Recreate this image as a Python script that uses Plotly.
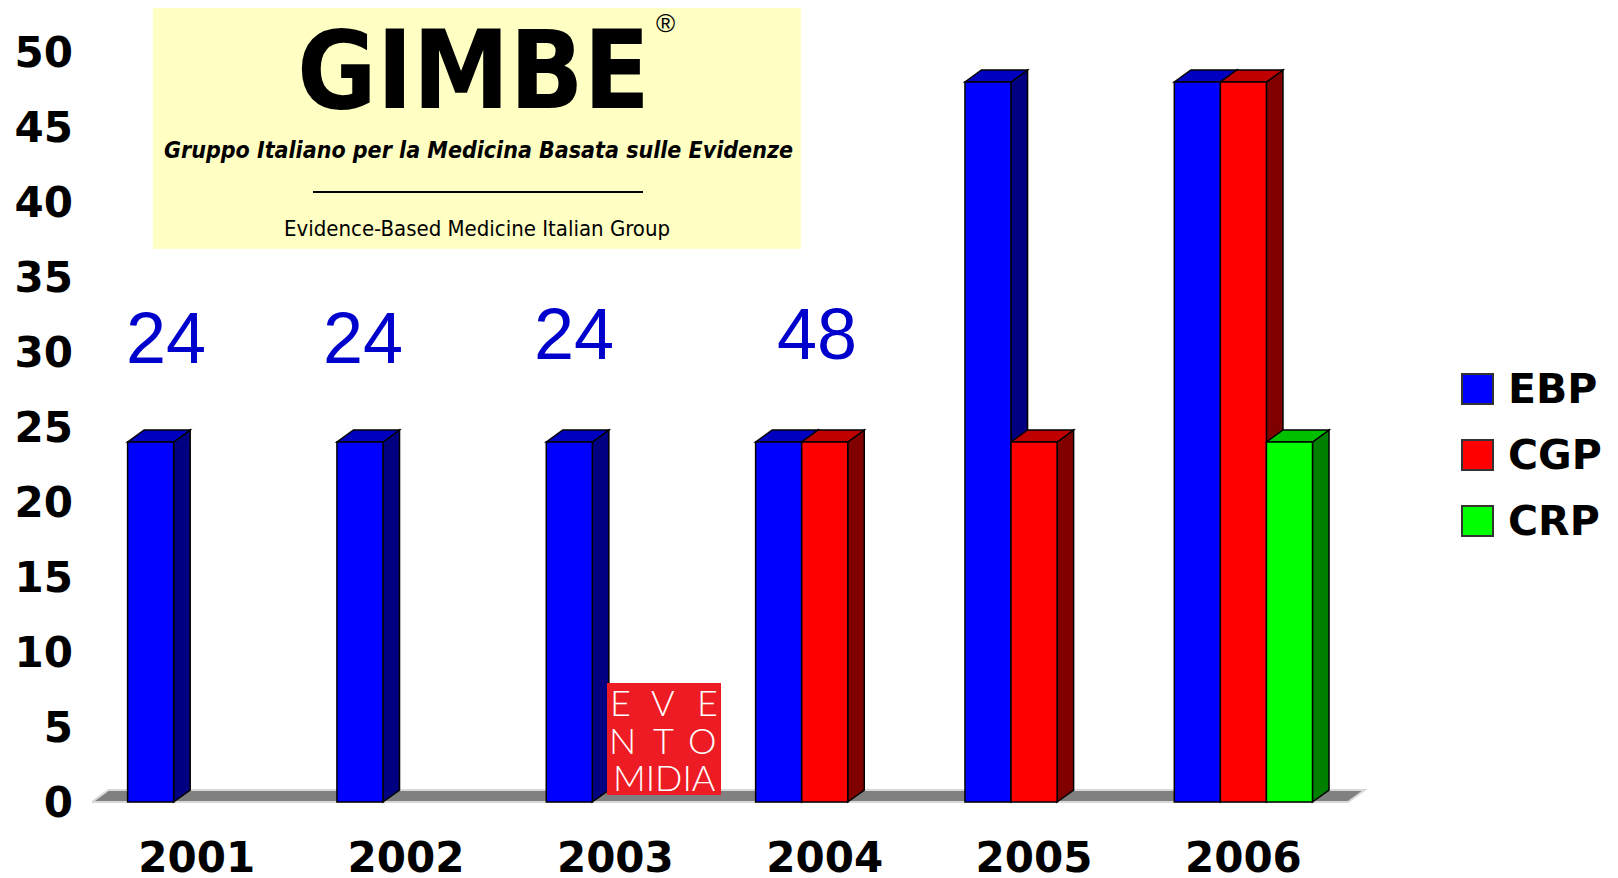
import plotly.graph_objects as go

# ---------------- data ----------------
years = ["2001", "2002", "2003", "2004", "2005", "2006"]
series_names = ["EBP", "CGP", "CRP"]
ebp = [24, 24, 24, 24, 48, 48]
cgp = [0, 0, 0, 24, 24, 48]
crp = [0, 0, 0, 0, 0, 24]
y_ticks = [0, 5, 10, 15, 20, 25, 30, 35, 40, 45, 50]

# ---------------- styling / layout constants ----------------
front_colors = ["#0000FF", "#FF0000", "#00FF00"]
side_colors = ["#000080", "#800000", "#008000"]
top_colors = ["#0000C0", "#C00000", "#00C000"]
BAR_W = 0.22
OFFSETS = [-0.33, -0.11, 0.11]
DX, DY = 0.079, 0.8          # 3D depth in data units
total_dx = [-0.148, -0.205, -0.196, -0.038, -0.024, 0.177]
total_y = [30.95, 30.95, 31.2, 31.2, 51.05, 51.05]

PAGE_OFF = 8                 # default body margin of the html page
W, H = 1610, 870
L, R, T, B = 84, 249, 44, 61
XR = [-0.5, 5.6]
YR = [-1, 50]
COND = "DejaVu Sans Condensed, DejaVu Sans, sans-serif"


def pxx(p):
    return (p - PAGE_OFF - L) / (W - L - R)


def pxy(p):
    return (H - B - (p - PAGE_OFF)) / (H - T - B)


series_vals = [ebp, cgp, crp]
x_idx = list(range(len(years)))

fig = go.Figure()
shapes = []

# floor
shapes.append(dict(type="path", xref="x", yref="y", layer="below",
                   path=f"M {XR[0]},0 L {XR[0] + 6.0},0 L {XR[0] + 6.0 + DX},{DY} L {XR[0] + DX},{DY} Z",
                   fillcolor="#808080", line=dict(color="#d8d8d8", width=2)))

side_shapes, top_shapes = [], []
for s, vals in enumerate(series_vals):
    ys = [v if v else None for v in vals]
    fig.add_trace(go.Bar(
        x=x_idx, y=ys, width=BAR_W, offset=OFFSETS[s], name=series_names[s],
        marker=dict(color=front_colors[s], line=dict(color="black", width=1.5)),
        showlegend=False, hoverinfo="skip"))
    for i, v in enumerate(vals):
        if not v:
            continue
        x0 = i + OFFSETS[s]
        x1 = x0 + BAR_W
        side_shapes.append(dict(
            type="path", xref="x", yref="y", layer="below",
            path=f"M {x1},0 L {x1 + DX},{DY} L {x1 + DX},{v + DY} L {x1},{v} Z",
            fillcolor=side_colors[s], line=dict(color="black", width=1.5)))
        top_shapes.append(dict(
            type="path", xref="x", yref="y", layer="below",
            path=f"M {x0},{v} L {x1},{v} L {x1 + DX},{v + DY} L {x0 + DX},{v + DY} Z",
            fillcolor=top_colors[s], line=dict(color="black", width=1.5)))
shapes += side_shapes + top_shapes

annotations = []
# totals above bars
totals = [a + b + c for a, b, c in zip(ebp, cgp, crp)]
for i, tot in enumerate(totals):
    annotations.append(dict(x=i + total_dx[i], y=total_y[i], xref="x", yref="y",
                            text=str(tot), showarrow=False, xanchor="center", yanchor="middle",
                            font=dict(family="Liberation Sans", size=72, color="#0000CC")))

# legend (drawn)
leg_y = [389, 455, 521]
for s, name in enumerate(series_names):
    shapes.append(dict(type="rect", xref="paper", yref="paper",
                       x0=pxx(1462), x1=pxx(1493), y0=pxy(leg_y[s] + 15), y1=pxy(leg_y[s] - 15),
                       fillcolor=front_colors[s], line=dict(color="#333333", width=2)))
    annotations.append(dict(x=pxx(1506), y=pxy(leg_y[s]), xref="paper", yref="paper",
                            text=name, showarrow=False, xanchor="left", yanchor="middle",
                            font=dict(family="DejaVu Sans", size=41, color="black", weight="bold")))

# GIMBE logo
shapes.append(dict(type="rect", xref="paper", yref="paper", layer="below",
                   x0=pxx(153), x1=pxx(801), y0=pxy(249), y1=pxy(8),
                   fillcolor="#FFFFC4", line=dict(width=0)))
shapes.append(dict(type="line", xref="paper", yref="paper",
                   x0=pxx(313), x1=pxx(643), y0=pxy(192), y1=pxy(192),
                   line=dict(color="black", width=2)))
annotations += [
    dict(x=pxx(474), y=pxy(70), xref="paper", yref="paper", text="GIMBE", showarrow=False,
         xanchor="center", yanchor="middle",
         font=dict(family=COND, size=108, color="black", weight="bold")),
    dict(x=pxx(665), y=pxy(23), xref="paper", yref="paper", text="®", showarrow=False,
         xanchor="center", yanchor="middle",
         font=dict(family="Liberation Sans", size=26, color="black")),
    dict(x=pxx(478), y=pxy(150), xref="paper", yref="paper",
         text="<i>Gruppo Italiano per la Medicina Basata sulle Evidenze</i>", showarrow=False,
         xanchor="center", yanchor="middle",
         font=dict(family=COND, size=23, color="black", weight="bold")),
    dict(x=pxx(477), y=pxy(229), xref="paper", yref="paper",
         text="Evidence-Based Medicine Italian Group", showarrow=False,
         xanchor="center", yanchor="middle",
         font=dict(family=COND, size=22, color="black")),
]

# EVENTO MIDIA logo
shapes.append(dict(type="rect", xref="paper", yref="paper",
                   x0=pxx(607), x1=pxx(721), y0=pxy(795), y1=pxy(683),
                   fillcolor="#ED1C24", line=dict(width=0)))
logo_rows = [["E", "V", "E"], ["N", "T", "O"]]
logo_cols = [[620, 663, 707], [622, 663, 702]]
logo_row_y = [702, 740]
for r, row in enumerate(logo_rows):
    for c, ch in enumerate(row):
        annotations.append(dict(x=pxx(logo_cols[r][c]), y=pxy(logo_row_y[r]), xref="paper", yref="paper",
                                text=ch, showarrow=False, xanchor="center", yanchor="middle",
                                font=dict(family="Lato", size=36, color="white", weight=300)))
annotations.append(dict(x=pxx(664), y=pxy(777), xref="paper", yref="paper",
                        text="MIDIA", showarrow=False, xanchor="center", yanchor="middle",
                        font=dict(family="Lato", size=36, color="white", weight=300)))

fig.update_layout(
    width=W, height=H,
    margin=dict(l=L, r=R, t=T, b=B, pad=0, autoexpand=False),
    paper_bgcolor="white", plot_bgcolor="white",
    barmode="overlay",
    shapes=shapes, annotations=annotations,
    xaxis=dict(range=XR, tickvals=x_idx, ticktext=years, showgrid=False, zeroline=False,
               showline=False, ticks="", ticklabelstandoff=12, automargin=False,
               tickfont=dict(family="DejaVu Sans", size=42, color="black", weight="bold")),
    yaxis=dict(range=YR, tickvals=y_ticks, showgrid=False, zeroline=False, showline=False,
               ticks="", ticklabelstandoff=18, automargin=False,
               tickfont=dict(family="DejaVu Sans", size=42, color="black", weight="bold")),
)

fig.write_html("out.html")
